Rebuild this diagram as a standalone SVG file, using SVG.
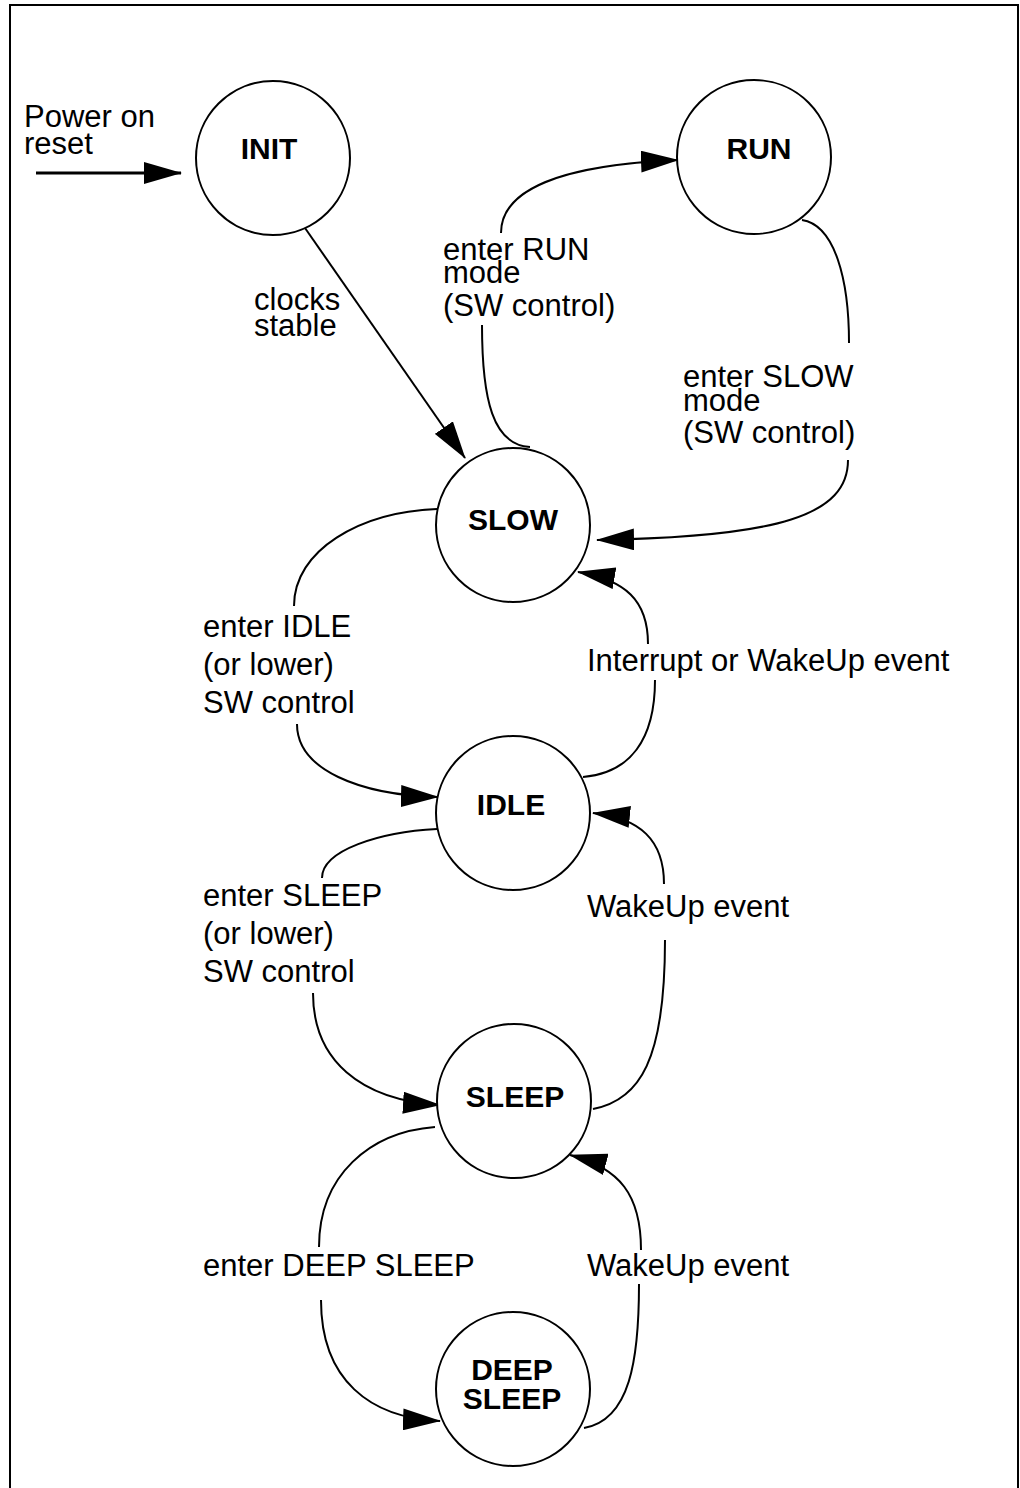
<svg xmlns="http://www.w3.org/2000/svg" width="1020" height="1488" viewBox="0 0 1020 1488">
<defs>
<marker id="ah" markerUnits="userSpaceOnUse" markerWidth="38" markerHeight="22" refX="37" refY="11" orient="auto">
<path d="M0,0 L38,11 L0,22 z" fill="#000"/>
</marker>
<style>
.node circle{fill:#fff;stroke:#000;stroke-width:2}
.node text{font-family:"Liberation Sans",Arial,sans-serif;font-weight:bold;font-size:30px;text-anchor:middle;fill:#000}
.lbl{font-family:"Liberation Sans",Arial,sans-serif;font-size:31px;fill:#000}
.edge{fill:none;stroke:#000;stroke-width:2}
.arr{marker-end:url(#ah)}
</style>
</defs>
<rect width="1020" height="1488" fill="#fff"/>
<path d="M10,1490 V5 H1018 V1490" fill="none" stroke="#000" stroke-width="2"/>

<g id="connectors">
<path class="edge arr" d="M36,173 H181" style="stroke-width:3"/>
<path class="edge arr" d="M305,228 L465,458"/>
<path class="edge" d="M482,325 C482,400 493,445 530,447"/>
<path class="edge arr" d="M501,233 C501,190 560,165 678,160"/>
<path class="edge" d="M802,220 C835,225 849,280 849,343"/>
<path class="edge arr" d="M848,460 C848,515 780,537 597,540"/>
<path class="edge" d="M437,509 C360,512 294,550 294,606"/>
<path class="edge arr" d="M297,724 C297,770 360,795 438,797"/>
<path class="edge" d="M583,777 C630,773 655,740 655,680"/>
<path class="edge arr" d="M648,644 C648,600 625,580 578,572"/>
<path class="edge" d="M437,829 C380,832 322,850 322,878"/>
<path class="edge arr" d="M313,993 C313,1060 360,1100 440,1105"/>
<path class="edge" d="M593,1109 C640,1100 665,1060 665,940"/>
<path class="edge arr" d="M664,884 C664,840 640,818 593,813"/>
<path class="edge" d="M435,1127 C370,1132 319,1175 319,1247"/>
<path class="edge arr" d="M321,1300 C321,1380 370,1418 440,1421"/>
<path class="edge" d="M584,1428 C630,1420 639,1360 639,1284"/>
<path class="edge arr" d="M641,1250 C641,1195 620,1168 570,1155"/>
</g>

<g id="labels">
<text class="lbl" x="24" y="127">Power on</text>
<text class="lbl" x="24" y="154">reset</text>
<text class="lbl" x="254" y="310">clocks</text>
<text class="lbl" x="254" y="336">stable</text>
<text class="lbl" x="443" y="260">enter RUN</text>
<text class="lbl" x="443" y="283">mode</text>
<text class="lbl" x="443" y="316">(SW control)</text>
<text class="lbl" x="683" y="387">enter SLOW</text>
<text class="lbl" x="683" y="411">mode</text>
<text class="lbl" x="683" y="443">(SW control)</text>
<text class="lbl" x="203" y="637">enter IDLE</text>
<text class="lbl" x="203" y="675">(or lower)</text>
<text class="lbl" x="203" y="713">SW control</text>
<text class="lbl" x="587" y="671">Interrupt or WakeUp event</text>
<text class="lbl" x="203" y="906">enter SLEEP</text>
<text class="lbl" x="203" y="944">(or lower)</text>
<text class="lbl" x="203" y="982">SW control</text>
<text class="lbl" x="587" y="917">WakeUp event</text>
<text class="lbl" x="203" y="1276">enter DEEP SLEEP</text>
<text class="lbl" x="587" y="1276">WakeUp event</text>
</g>

<g id="INIT" class="node"><circle cx="273" cy="158" r="77"/><text x="269" y="159">INIT</text></g>
<g id="RUN" class="node"><circle cx="754" cy="157" r="77"/><text x="759" y="159">RUN</text></g>
<g id="SLOW" class="node"><circle cx="513" cy="525" r="77"/><text x="513" y="530">SLOW</text></g>
<g id="IDLE" class="node"><circle cx="513" cy="813" r="77"/><text x="511" y="815">IDLE</text></g>
<g id="SLEEP" class="node"><circle cx="514" cy="1101" r="77"/><text x="515" y="1107">SLEEP</text></g>
<g id="DEEP_SLEEP" class="node"><circle cx="513" cy="1389" r="77"/><text x="512" y="1380">DEEP</text><text x="512" y="1409">SLEEP</text></g>
</svg>
